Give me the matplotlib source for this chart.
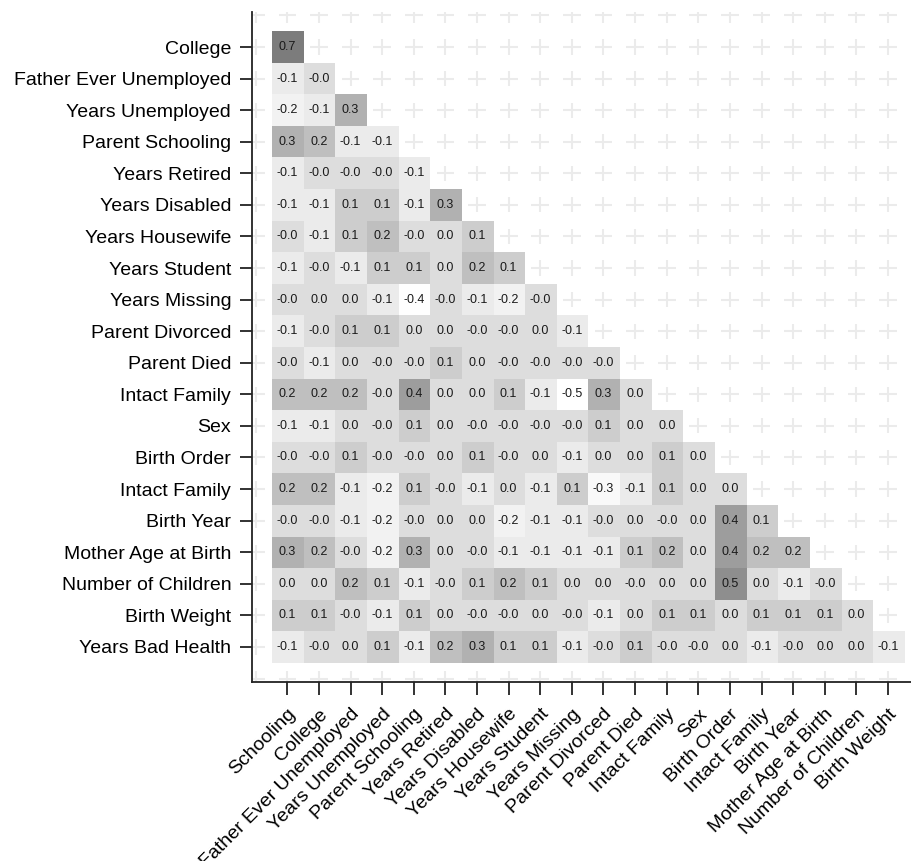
import numpy as np
import matplotlib
matplotlib.use("Agg")
import matplotlib.pyplot as plt
from matplotlib.colors import LinearSegmentedColormap
from matplotlib.collections import LineCollection

plt.rcParams['font.family'] = ['Liberation Sans', 'DejaVu Sans']

# Variables on each axis
col_labels = ["Schooling", "College", "Father Ever Unemployed", "Years Unemployed",
              "Parent Schooling", "Years Retired", "Years Disabled", "Years Housewife",
              "Years Student", "Years Missing", "Parent Divorced", "Parent Died",
              "Intact Family", "Sex", "Birth Order", "Intact Family", "Birth Year",
              "Mother Age at Birth", "Number of Children", "Birth Weight"]
row_labels = col_labels[1:] + ["Years Bad Health"]

# Lower-triangle correlations, one list per row
corr_rows = [
    [0.7],
    [-0.1, -0.0],
    [-0.2, -0.1, 0.3],
    [0.3, 0.2, -0.1, -0.1],
    [-0.1, -0.0, -0.0, -0.0, -0.1],
    [-0.1, -0.1, 0.1, 0.1, -0.1, 0.3],
    [-0.0, -0.1, 0.1, 0.2, -0.0, 0.0, 0.1],
    [-0.1, -0.0, -0.1, 0.1, 0.1, 0.0, 0.2, 0.1],
    [-0.0, 0.0, 0.0, -0.1, -0.4, -0.0, -0.1, -0.2, -0.0],
    [-0.1, -0.0, 0.1, 0.1, 0.0, 0.0, -0.0, -0.0, 0.0, -0.1],
    [-0.0, -0.1, 0.0, -0.0, -0.0, 0.1, 0.0, -0.0, -0.0, -0.0, -0.0],
    [0.2, 0.2, 0.2, -0.0, 0.4, 0.0, 0.0, 0.1, -0.1, -0.5, 0.3, 0.0],
    [-0.1, -0.1, 0.0, -0.0, 0.1, 0.0, -0.0, -0.0, -0.0, -0.0, 0.1, 0.0, 0.0],
    [-0.0, -0.0, 0.1, -0.0, -0.0, 0.0, 0.1, -0.0, 0.0, -0.1, 0.0, 0.0, 0.1, 0.0],
    [0.2, 0.2, -0.1, -0.2, 0.1, -0.0, -0.1, 0.0, -0.1, 0.1, -0.3, -0.1, 0.1, 0.0, 0.0],
    [-0.0, -0.0, -0.1, -0.2, -0.0, 0.0, 0.0, -0.2, -0.1, -0.1, -0.0, 0.0, -0.0, 0.0, 0.4, 0.1],
    [0.3, 0.2, -0.0, -0.2, 0.3, 0.0, -0.0, -0.1, -0.1, -0.1, -0.1, 0.1, 0.2, 0.0, 0.4, 0.2, 0.2],
    [0.0, 0.0, 0.2, 0.1, -0.1, -0.0, 0.1, 0.2, 0.1, 0.0, 0.0, -0.0, 0.0, 0.0, 0.5, 0.0, -0.1, -0.0],
    [0.1, 0.1, -0.0, -0.1, 0.1, 0.0, -0.0, -0.0, 0.0, -0.0, -0.1, 0.0, 0.1, 0.1, 0.0, 0.1, 0.1, 0.1, 0.0],
    [-0.1, -0.0, 0.0, 0.1, -0.1, 0.2, 0.3, 0.1, 0.1, -0.1, -0.0, 0.1, -0.0, -0.0, 0.0, -0.1, -0.0, 0.0, 0.0, -0.1],
]

n_rows = len(row_labels)
n_cols = len(col_labels)
mat = np.full((n_rows, n_cols), np.nan)
for i, vals in enumerate(corr_rows):
    mat[i, :len(vals)] = vals

# grey scale: white for strong negatives, mid grey for the highest values
vmin, vmax = -0.5, 0.7
anchors = [(-0.5, 255), (-0.4, 254), (-0.3, 249), (-0.2, 243), (-0.1, 235),
           (0.0, 221), (0.1, 206), (0.2, 192), (0.3, 177), (0.4, 158),
           (0.5, 143), (0.7, 124)]
cmap = LinearSegmentedColormap.from_list(
    "greys_custom",
    [((v - vmin) / (vmax - vmin), (g / 255, g / 255, g / 255)) for v, g in anchors])
cmap.set_bad((1, 1, 1, 0))

fig = plt.figure(figsize=(9.12, 8.61), dpi=100)
ax = fig.add_axes([0.2763, 0.2079, 0.7237, 0.7782])

# broken background grid (short crosses at every row/column intersection)
segs = []
for gx in range(-1, n_cols + 1):
    for gy in range(-1, n_rows + 1):
        segs.append([(gx - 0.28, gy), (gx + 0.28, gy)])
        segs.append([(gx, gy - 0.24), (gx, gy + 0.24)])
ax.add_collection(LineCollection(segs, colors='#ebebeb', linewidths=1.5, zorder=0))

ax.imshow(np.ma.masked_invalid(mat), cmap=cmap, vmin=vmin, vmax=vmax,
          aspect='auto', interpolation='nearest', zorder=1,
          extent=(-0.5, n_cols - 0.5, n_rows - 0.5, -0.5))

for i in range(n_rows):
    for j in range(n_cols):
        if not np.isnan(mat[i, j]):
            ax.text(j, i, f"{mat[i, j]:.1f}", ha='center', va='center',
                    fontsize=9, color='#1a1a1a', zorder=2)

ax.set_xlim(-1.12, 19.76)
ax.set_ylim(20.11, -1.11)

ax.set_xticks(range(n_cols))
ax.set_xticklabels(col_labels, rotation=45, ha='right', va='top',
                   rotation_mode='anchor', fontsize=14)
ax.set_yticks(range(n_rows))
ax.set_yticklabels(row_labels, fontsize=14)

for side in ['top', 'right']:
    ax.spines[side].set_visible(False)
for side in ['left', 'bottom']:
    ax.spines[side].set_linewidth(1.3)
    ax.spines[side].set_color('#222222')
ax.tick_params(direction='out', length=9, width=1.3, color='#222222')
ax.tick_params(axis='x', pad=8)
ax.tick_params(axis='y', pad=6)
ax.set_facecolor('white')

fig.savefig("out.png", dpi=100)
